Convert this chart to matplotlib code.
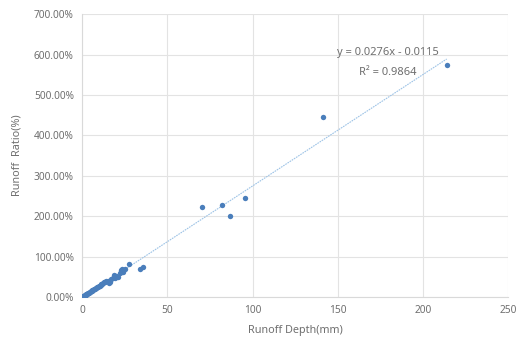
import matplotlib
matplotlib.use("Agg")
import matplotlib.pyplot as plt
from matplotlib.ticker import FuncFormatter, MultipleLocator

plt.rcParams['font.family'] = ['Noto Sans', 'DejaVu Sans']

# runoff depth (mm) and runoff ratio (%)
depth = [0.3, 0.5, 0.8, 1.0, 1.2, 1.5, 1.8, 2.0, 2.3, 2.6, 3.0, 3.3, 3.6, 4.0, 4.4,
         4.8, 5.2, 5.6, 6.0, 6.5, 7.0, 7.4, 7.9, 8.3, 8.8, 9.2, 9.7, 10.2, 10.8,
         11.3, 11.9, 12.5, 13.0, 13.6, 14.2, 15.0, 15.8, 16.5, 17.2, 18.0, 18.5,
         19.3, 20.0, 21.0, 22.0, 22.8, 23.5, 24.2, 25.0, 27.5, 34.0, 35.5,
         70.3, 82.0, 86.9, 95.5, 141.3, 214.2]
ratio = [0.5, 1.2, 2.0, 2.5, 3.0, 3.8, 4.6, 5.4, 6.1, 7.0, 8.0, 9.0, 9.6, 10.8, 12.0,
         13.0, 14.2, 15.5, 16.2, 17.8, 19.5, 20.1, 22.0, 22.6, 24.5, 25.0, 27.0, 28.0, 29.5,
         31.5, 32.0, 34.5, 36.0, 37.0, 39.5, 40.5, 35.0, 38.0, 44.0, 48.0, 55.0,
         46.0, 52.0, 50.0, 60.0, 66.0, 70.0, 62.0, 68.0, 82.0, 68.0, 75.0,
         223.0, 229.0, 201.0, 246.0, 446.0, 574.0]

slope = 0.0276
intercept = -0.0115
fit_x = [0, 214]

fig = plt.figure(figsize=(5.2, 3.51), dpi=100)
ax = fig.add_axes([0.158, 0.154, 0.819, 0.805])

fit_y = [(slope * x + intercept) * 100 for x in fit_x]
ax.plot(fit_x, fit_y, color="#9dc3e6", lw=0.8, ls=(0, (1.5, 0.8)), zorder=2)
ax.scatter(depth, ratio, s=15, color="#4a7ebb", zorder=3, linewidths=0)

ax.set_xlim(0, 250)
ax.set_ylim(0, 700)
ax.xaxis.set_major_locator(MultipleLocator(50))
ax.yaxis.set_major_locator(MultipleLocator(100))
ax.yaxis.set_major_formatter(FuncFormatter(lambda v, p: f"{v:.2f}%"))

ax.grid(True, color="#e3e3e3", lw=0.8)
ax.set_axisbelow(True)
for s in ["top", "right"]:
    ax.spines[s].set_visible(False)
for s in ["left", "bottom"]:
    ax.spines[s].set_color("#d9d9d9")
ax.tick_params(length=0, labelsize=7.3, colors="#6f6f6f", pad=6)

ax.set_xlabel("Runoff Depth(mm)", fontsize=7.8, color="#6f6f6f", labelpad=6)
ax.set_ylabel("Runoff  Ratio(%)", fontsize=7.8, color="#6f6f6f", labelpad=8)

ax.text(0.718, 0.866, "y = 0.0276x - 0.0115", transform=ax.transAxes,
        ha="center", va="center", fontsize=8, color="#6f6f6f")
ax.text(0.718, 0.795, "R\u00b2 = 0.9864", transform=ax.transAxes,
        ha="center", va="center", fontsize=8, color="#6f6f6f")

fig.savefig("out.png", dpi=100)
